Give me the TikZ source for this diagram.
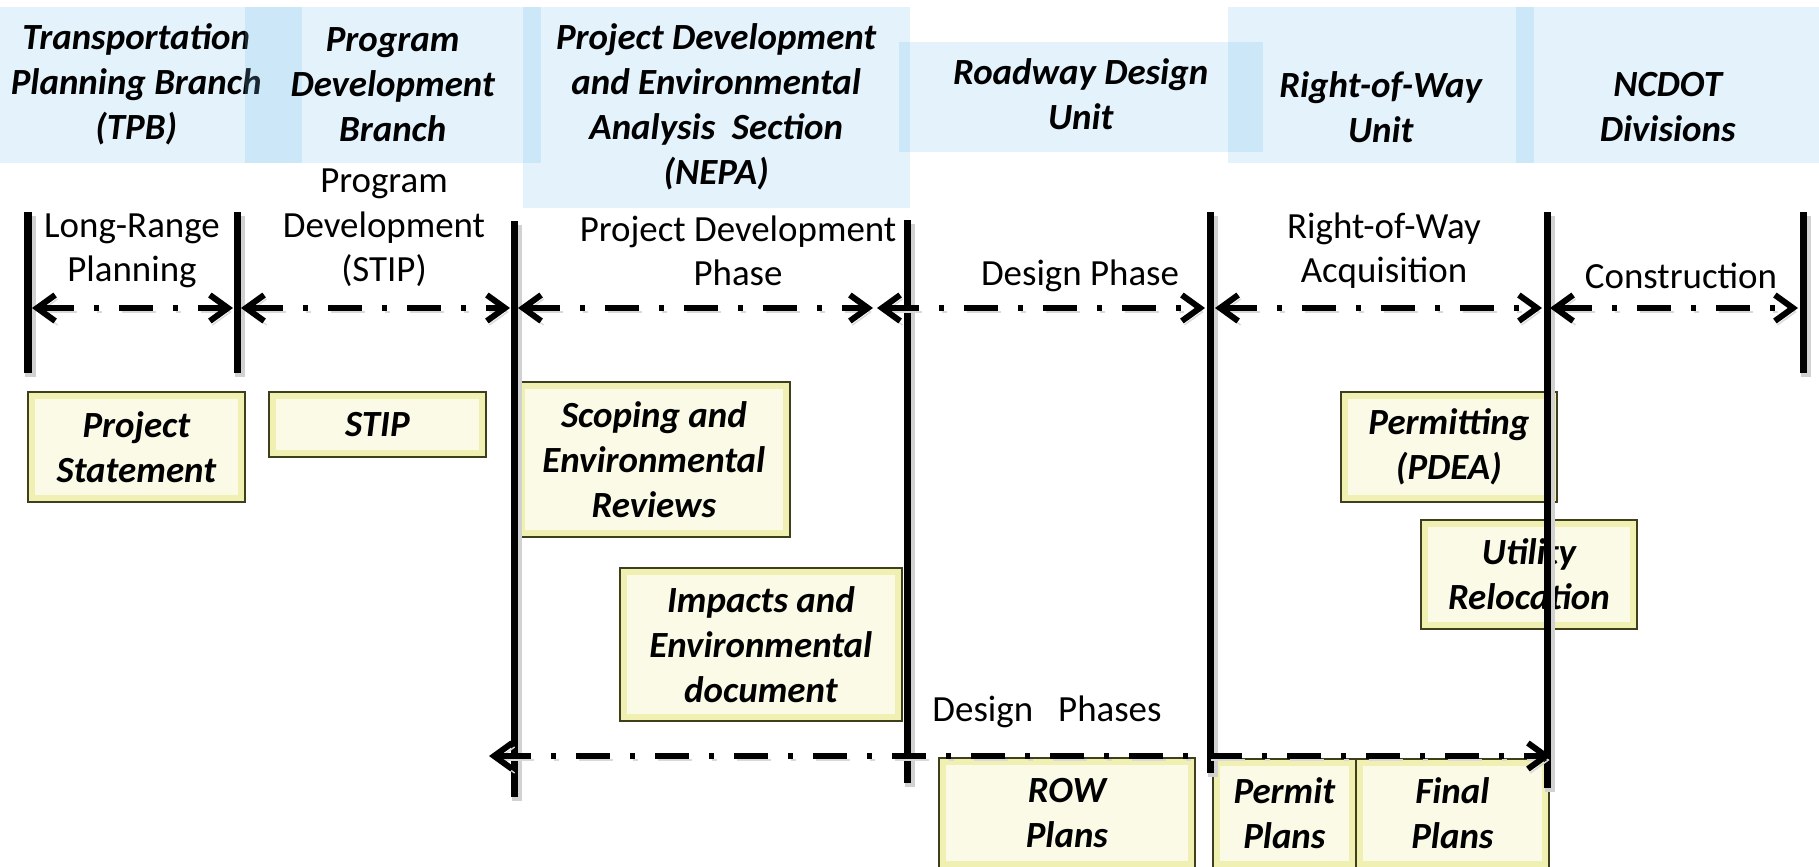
\documentclass[tikz,border=0pt]{standalone}
\usepackage{fontspec}
\setmainfont{Carlito}
\usetikzlibrary{arrows.meta}
\definecolor{sky}{HTML}{7AC1EC}
\definecolor{cream}{HTML}{FAFAE6}
\definecolor{straw}{HTML}{F0F0B2}
\definecolor{rim}{HTML}{3F3F1C}
\newcommand{\hdfont}{\fontsize{10.5pt}{12.8pt}\selectfont\bfseries\itshape}
\newcommand{\phfont}{\fontsize{10.5pt}{12.6pt}\selectfont}
\newcommand{\orgbox}[7]{\node[org,minimum width=#4cm,minimum height=#5cm] (#1) at (#2,#3) {};
  \node[orgtext,yshift=#6cm] (#1 text) at (#1.center) {#7};}
\newcommand{\taskbox}[6]{\node[task,minimum width=#4cm,minimum height=#5cm] (#1) at (#2,#3) {#6};}
\tikzset{
  org/.style={anchor=north west,fill=sky,fill opacity=0.21,inner sep=0pt},
  orgtext/.style={align=center,font=\hdfont,inner sep=0pt},
  task/.style={anchor=north west,draw=rim,line width=0.5pt,fill=straw,inner sep=0pt,align=center,font=\hdfont,
    path picture={\fill[cream] ([shift={(0.07,-0.07)}]path picture bounding box.north west) rectangle ([shift={(-0.07,0.07)}]path picture bounding box.south east);}},
  phase/.style={align=center,font=\phfont},
  divider/.style={line width=0.07cm,preaction={draw=black!18,line width=0.1cm,transform canvas={shift={(0.025,-0.04)}}}},
  span/.style={{Straight Barb[length=1.8mm,width=2.6mm]}-{Straight Barb[length=1.8mm,width=2.6mm]},line width=0.06cm,
    dash pattern=on 0.34cm off 0.2cm on 0.05cm off 0.2cm,
    preaction={draw=black!15,dash pattern=on 0.34cm off 0.2cm on 0.05cm off 0.2cm,transform canvas={shift={(0.025,-0.04)}}}}
}
\begin{document}
\begin{tikzpicture}[x=1cm,y=1cm]
\useasboundingbox (0,0) rectangle (18.19,-8.66);
% units along the top
\orgbox{tpb}{-0.30}{-0.06}{3.31}{1.56}{0}{Transportation\\Planning Branch\\(TPB)}
\orgbox{pdb}{2.44}{-0.06}{2.96}{1.56}{0}{Program\\Development\\Branch}
\orgbox{nepa}{5.22}{-0.06}{3.87}{2.01}{0}{Project Development\\and Environmental\\Analysis\ \ Section\\(NEPA)}
\orgbox{rdu}{8.98}{-0.41}{3.64}{1.10}{0.03}{Roadway Design\\Unit}
\orgbox{rwu}{12.27}{-0.06}{3.06}{1.56}{-0.22}{Right-of-Way\\Unit}
\orgbox{div}{15.15}{-0.06}{3.04}{1.56}{-0.22}{NCDOT\\Divisions}
% products
\taskbox{pst}{0.27}{-3.91}{2.17}{1.10}{Project\\Statement}
\taskbox{stip}{2.68}{-3.91}{2.17}{0.65}{STIP}
\taskbox{scp}{5.17}{-3.81}{2.72}{1.55}{Scoping and\\Environmental\\Reviews}
\taskbox{imp}{6.19}{-5.67}{2.82}{1.53}{Impacts and\\Environmental\\document}
\taskbox{pmt}{13.40}{-3.91}{2.16}{1.10}{Permitting\\(PDEA)}
\taskbox{utl}{14.20}{-5.19}{2.16}{1.09}{Utility\\Relocation}
\taskbox{rwp}{9.38}{-7.57}{2.56}{1.10}{ROW\\Plans}
\taskbox{ppl}{12.12}{-7.58}{1.43}{1.09}{Permit\\Plans}
\taskbox{fpl}{13.55}{-7.58}{1.93}{1.09}{Final\\Plans}
% phase names
\node[phase] (lrp) at (1.32,-2.51) {Long-Range\\Planning};
\node[phase] (pdv) at (3.84,-2.28) {Program\\Development\\(STIP)};
\node[phase] (pdp) at (7.38,-2.51) {Project Development\\Phase};
\node[phase] (dsp) at (10.80,-2.76) {Design Phase};
\node[phase] (rwa) at (13.84,-2.51) {Right-of-Way\\Acquisition};
\node[phase] (cst) at (16.81,-2.76) {Construction};
\node[phase] (dps) at (10.47,-7.12) {Design\ \ \ Phases};
% dividers
\foreach \n/\x/\t/\b in {d1/0.28/2.12/3.73,d2/2.37/2.12/3.73,d3/5.14/2.21/7.97,d4/9.07/2.20/7.83,d5/12.10/2.12/7.73,d6/15.47/2.12/7.88,d7/18.03/2.12/3.73}{
  \coordinate (\n t) at (\x,-\t);
  \coordinate (\n b) at (\x,-\b);
}
\foreach \n in {d1,d2,d3,d4,d5,d6,d7}
  \draw[divider] (\n t) -- (\n b);
% phase spans
\foreach \n/\l/\r in {a1/0.32/2.33,a2/2.41/5.10,a3/5.18/8.73,a4/8.77/12.05,a5/12.15/15.42,a6/15.50/17.98}{
  \coordinate (\n l) at (\l,-3.08);
  \coordinate (\n r) at (\r,-3.08);
}
\foreach \n in {a1,a2,a3,a4,a5,a6}
  \draw[span] (\n l) -- (\n r);
\coordinate (dsl) at (4.89,-7.56);
\coordinate (dsr) at (15.51,-7.56);
\draw[span] (dsl) -- (dsr);
\end{tikzpicture}
\end{document}
